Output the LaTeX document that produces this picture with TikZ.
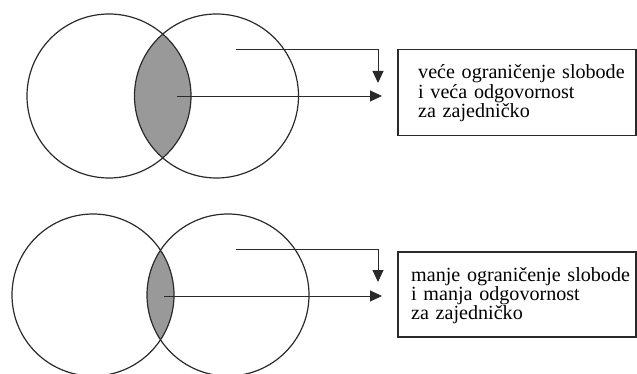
\documentclass[tikz,border=0pt]{standalone}
\usepackage{fontspec}
\setmainfont{Liberation Serif}
\usetikzlibrary{arrows.meta}
\definecolor{ink}{HTML}{2A2A2A}
\definecolor{lens}{HTML}{999999}
\tikzset{
  venn/.style={circle, draw=ink, line width=1.2pt, minimum size=164pt, inner sep=0pt},
  vennb/.style={circle, draw=ink, line width=1.2pt, minimum size=162pt, inner sep=0pt},
  conn/.style={draw=ink, line width=0.9pt, -{Triangle[length=12pt,width=11pt]}},
  frame/.style={draw=ink, line width=1.3pt, minimum width=238pt, inner sep=0pt},
  label/.style={anchor=base west, inner sep=0pt, text width=230pt, align=left,
    font=\fontsize{20.1}{18}\selectfont, text=black}
}
\begin{document}
\begin{tikzpicture}[x=1pt,y=-1pt]
\useasboundingbox (0,0) rectangle (637,374);
% ---------- top ----------
\node[venn, draw=none] (A1) at (109,96) {};
\node[venn, draw=none] (B1) at (216.5,96) {};
\begin{scope}
  \clip (A1.center) circle[radius=82pt];
  \fill[lens] (B1.center) circle[radius=82pt];
\end{scope}
\node[venn] at (A1.center) {};
\node[venn] at (B1.center) {};
\coordinate (s1) at (236,49);
\coordinate (t1) at (378,83);
\coordinate (m1) at (177,96);
\coordinate (r1) at (382,96);
\draw[conn] (s1) -| (t1);
\draw[conn] (m1) -- (r1);
\node[frame, minimum height=86pt] (box1) at (517,92.5) {};
\node[label] (txt1) at (418,79) {veće ograničenje slobode\\i veća odgovornost\\za zajedničko};
% ---------- bottom ----------
\node[vennb, draw=none] (A2) at (93,295) {};
\node[vennb, draw=none] (B2) at (228,295) {};
\begin{scope}
  \clip (A2.center) circle[radius=81pt];
  \fill[lens] (B2.center) circle[radius=81pt];
\end{scope}
\node[vennb] at (A2.center) {};
\node[vennb] at (B2.center) {};
\coordinate (s2) at (236,249);
\coordinate (t2) at (378,282);
\coordinate (m2) at (164,296);
\coordinate (r2) at (382,296);
\draw[conn] (s2) -| (t2);
\draw[conn] (m2) -- (r2);
\node[frame, minimum height=85pt] (box2) at (517,294.5) {};
\node[label] (txt2) at (411,281) {manje ograničenje slobode\\i manja odgovornost\\za zajedničko};
\end{tikzpicture}
\end{document}
